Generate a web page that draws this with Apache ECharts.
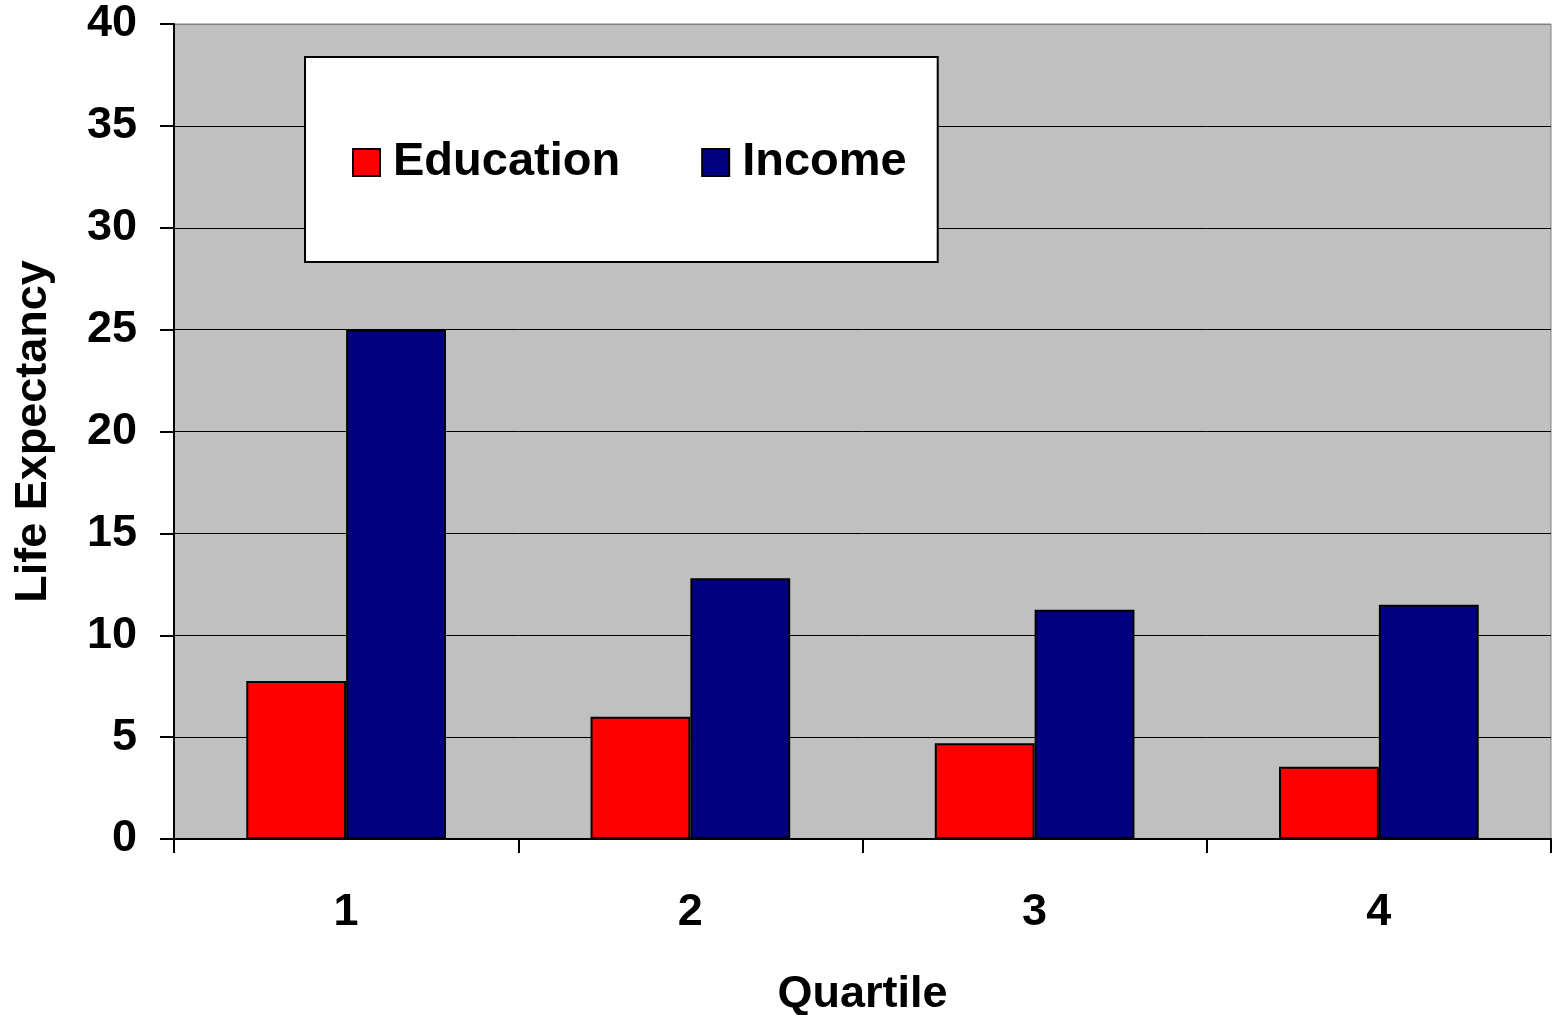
<!DOCTYPE html>
<html>
<head>
<meta charset="utf-8">
<title>Life Expectancy by Quartile</title>
<script src="https://cdn.jsdelivr.net/npm/echarts@6/dist/echarts.min.js"></script>
<style>
  html, body { margin: 0; padding: 0; background: #ffffff; }
  #chart { width: 1553px; height: 1015px; }
</style>
</head>
<body>
<div id="chart"></div>
<script>
// Quartile categories and life-expectancy values per series
const quartiles = ['1', '2', '3', '4'];
const educationValues = [7.75, 6.0, 4.7, 3.55];
const incomeValues = [25.0, 12.8, 11.25, 11.5];
const yTicks = [0, 5, 10, 15, 20, 25, 30, 35, 40];

const FONT = '"Liberation Sans", Arial, sans-serif';
const chart = echarts.init(document.getElementById('chart'), null, { renderer: 'canvas' });

// Gridline colours: black for each value line, grey for the top edge of the plot
const splitColors = yTicks.map((v, i) => (i === yTicks.length - 1 ? '#808080' : '#000000'));

chart.setOption({
  animation: false,
  backgroundColor: '#ffffff',
  grid: {
    left: 174, right: 2, top: 24, bottom: 176,
    outerBoundsMode: 'none',
    containLabel: false,
    show: true,
    backgroundColor: '#C0C0C0',
    borderColor: '#808080',
    borderWidth: 1
  },
  legend: {
    left: 305, top: 57,
    orient: 'horizontal',
    backgroundColor: '#ffffff',
    borderColor: '#000000',
    borderWidth: 2,
    padding: [82, 31, 76, 47],
    icon: 'rect',
    itemWidth: 27, itemHeight: 27,
    itemGap: 81,
    textStyle: { fontFamily: FONT, fontWeight: 'bold', fontSize: 47, color: '#000', padding: [0, 0, 0, 8] },
    data: ['Education', 'Income']
  },
  xAxis: {
    type: 'category',
    data: quartiles,
    name: 'Quartile',
    nameLocation: 'middle',
    nameGap: 133,
    nameTextStyle: { fontFamily: FONT, fontWeight: 'bold', fontSize: 45, color: '#000' },
    axisLine: { show: true, lineStyle: { color: '#000', width: 2 } },
    axisTick: { show: true, inside: false, length: 14, lineStyle: { color: '#000', width: 2 } },
    axisLabel: { fontFamily: FONT, fontWeight: 'bold', fontSize: 45, color: '#000', margin: 51 },
    splitLine: { show: false }
  },
  yAxis: {
    type: 'value',
    min: 0, max: 40, interval: 5,
    name: 'Life Expectancy',
    nameLocation: 'middle',
    nameGap: 118,
    nameRotate: 90,
    nameTextStyle: { fontFamily: FONT, fontWeight: 'bold', fontSize: 45, color: '#000' },
    axisLine: { show: true, lineStyle: { color: '#000', width: 2 } },
    axisTick: { show: true, inside: false, length: 14, lineStyle: { color: '#000', width: 2 } },
    axisLabel: { fontFamily: FONT, fontWeight: 'bold', fontSize: 45, color: '#000', margin: 37 },
    splitLine: { show: true, lineStyle: { color: splitColors, width: 1 } }
  },
  series: [
    {
      name: 'Education',
      type: 'bar',
      data: educationValues,
      barGap: '0%',
      barCategoryGap: '42%',
      itemStyle: { color: '#FF0000', borderColor: '#000', borderWidth: 2 }
    },
    {
      name: 'Income',
      type: 'bar',
      data: incomeValues,
      barGap: '0%',
      barCategoryGap: '42%',
      itemStyle: { color: '#000080', borderColor: '#000', borderWidth: 2 }
    }
  ]
});
</script>
</body>
</html>
